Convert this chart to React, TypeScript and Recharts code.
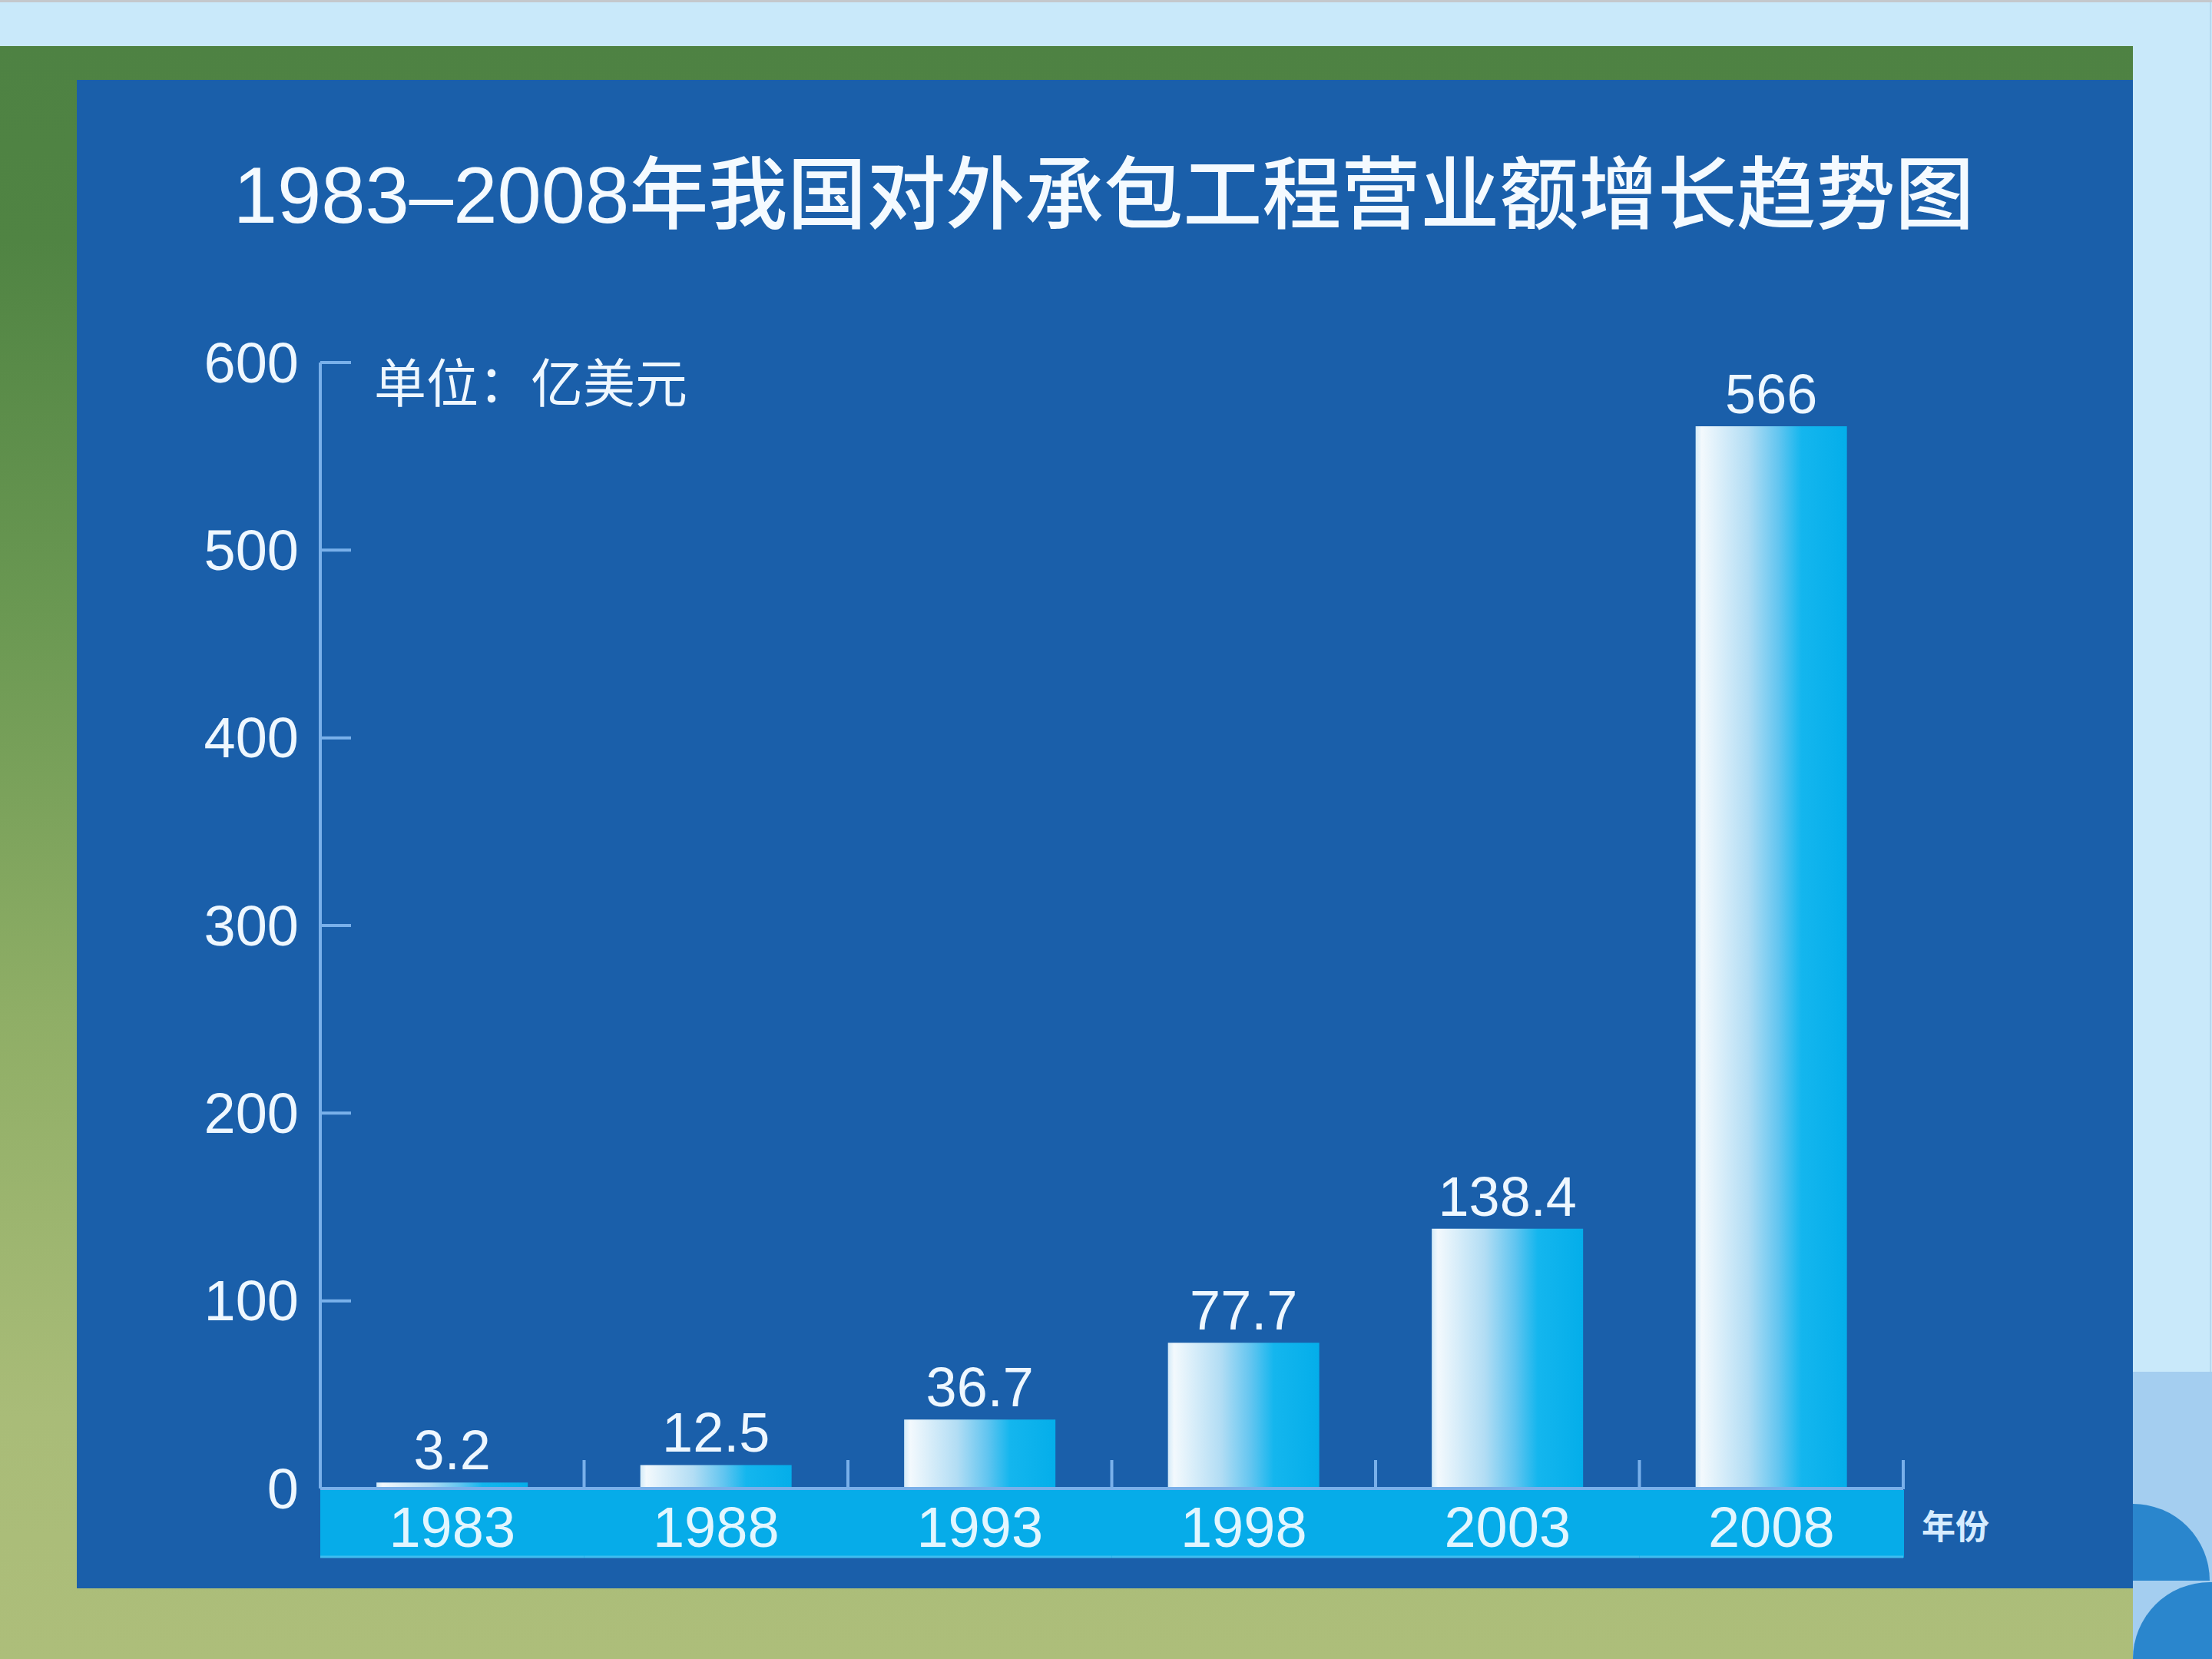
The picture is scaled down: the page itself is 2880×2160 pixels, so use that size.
import React from "react"
import { BarChart, Bar, XAxis, YAxis, LabelList } from "recharts"

const years = ["1983", "1988", "1993", "1998", "2003", "2008"]
const revenue = [3.2, 12.5, 36.7, 77.7, 138.4, 566]
const yTicks = [0, 100, 200, 300, 400, 500, 600]

const title = "1983–2008年我国对外承包工程营业额增长趋势图"
const unitLabel = "单位：亿美元"
const xAxisName = "年份"

const W = 2880
const H = 2160
// plot box, px on the page
const PLOT_L = 417
const PLOT_R = 2478
const PLOT_T = 472
const PLOT_B = 1938
const BAND_W = (PLOT_R - PLOT_L) / years.length

const FONT = "'Liberation Sans', Arial, 'Noto Sans CJK SC', sans-serif"
const TEXT = "#EEF7FF"
const AXIS = "#79B0EA"
const PANEL = "#1A5FAA"

const data = years.map((y, i) => ({ year: y, value: revenue[i] }))

function YTick({ x, y, payload }: any) {
  return (
    <g>
      <line x1={x} x2={x + 40} y1={y} y2={y} stroke={AXIS} strokeWidth={4} />
      <text x={x - 28} y={y} textAnchor="end" dominantBaseline="central" fill={TEXT} fontSize={74} fontFamily={FONT}>
        {payload.value}
      </text>
    </g>
  )
}

function XTick({ x, y, payload }: any) {
  const right = x + BAND_W / 2
  return (
    <g>
      <rect x={x - BAND_W / 2} y={y + 2} width={BAND_W + 1} height={88} fill="#06ACE9" />
      <line x1={x - BAND_W / 2} x2={right} y1={y + 89} y2={y + 89} stroke="#3FBDF0" strokeWidth={3} />
      <line x1={right} x2={right} y1={y + 1} y2={y - 37} stroke={AXIS} strokeWidth={4} />
      <text x={x} y={y + 50} textAnchor="middle" dominantBaseline="central" fill="#E2F6FF" fontSize={74} fontFamily={FONT}>
        {payload.value}
      </text>
    </g>
  )
}

const abs = (s: React.CSSProperties): React.CSSProperties => ({ position: "absolute", ...s })

export default function App() {
  return (
    <div style={abs({ left: 0, top: 0, width: W, height: H, overflow: "hidden", background: "#C9E9FA" })}>
      {/* page backdrop */}
      <div style={abs({ left: 0, top: 0, width: W, height: 3, background: "#C4C8CC" })} />
      <div style={abs({ left: 2777, top: 1786, width: 103, height: 374, background: "#A4CEF0" })} />
      <div style={abs({ left: 2777, top: 1958, width: 100, height: 100, background: "#2A86CD", borderTopRightRadius: 100 })} />
      <div style={abs({ left: 2777, top: 2060, width: 103, height: 100, background: "#2A86CD", borderTopLeftRadius: 103 })} />
      <div style={abs({ left: 2877, top: 3, width: 2, height: 1783, background: "#B6D8EE" })} />
      <div
        style={abs({
          left: 0,
          top: 60,
          width: 2777,
          height: 2100,
          background: "linear-gradient(180deg, #4E8243 0%, #508443 12%, #6A9852 35%, #8FAE66 60%, #A9BC78 85%, #ADBE7A 100%)",
        })}
      />
      <div style={abs({ left: 100, top: 104, width: 2677, height: 1964, background: PANEL })} />

      <div
        style={abs({
          left: 1437,
          top: 254,
          transform: "translate(-50%, -50%)",
          whiteSpace: "nowrap",
          lineHeight: 1,
          fontSize: 103,
          fontFamily: FONT,
          fontWeight: 500,
          color: "#F4FAFF",
        })}
      >
        {title}
      </div>
      <div
        style={abs({
          left: 487,
          top: 500,
          transform: "translateY(-50%)",
          whiteSpace: "nowrap",
          lineHeight: 1,
          fontSize: 68,
          fontFamily: FONT,
          color: TEXT,
        })}
      >
        {unitLabel}
      </div>
      <div
        style={abs({
          left: 2502,
          top: 1989,
          transform: "translateY(-50%)",
          whiteSpace: "nowrap",
          lineHeight: 1,
          fontSize: 44,
          fontWeight: 700,
          fontFamily: FONT,
          color: "#D6ECFF",
        })}
      >
        {xAxisName}
      </div>

      <div style={abs({ left: 0, top: 0 })}>
        <BarChart
          width={W}
          height={H}
          data={data}
          barCategoryGap="21.3%"
          margin={{ top: PLOT_T, left: PLOT_L - 100, right: W - PLOT_R, bottom: H - PLOT_B - 100 }}
        >
          <defs>
            <linearGradient id="barFill" x1="0" y1="0" x2="1" y2="0">
              <stop offset="0%" stopColor="#D2EAF8" />
              <stop offset="4%" stopColor="#F3F9FD" />
              <stop offset="35%" stopColor="#B2DDF4" />
              <stop offset="55%" stopColor="#62C5F0" />
              <stop offset="70%" stopColor="#14B6EE" />
              <stop offset="100%" stopColor="#04AEEA" />
            </linearGradient>
          </defs>
          <XAxis
            dataKey="year"
            height={100}
            tickSize={0}
            tickMargin={0}
            interval={0}
            axisLine={{ stroke: AXIS, strokeWidth: 4 }}
            tick={<XTick />}
          />
          <YAxis
            width={100}
            domain={[0, 600]}
            ticks={yTicks}
            tickSize={0}
            tickMargin={0}
            interval={0}
            axisLine={{ stroke: AXIS, strokeWidth: 4 }}
            tick={<YTick />}
          />
          <Bar dataKey="value" fill="url(#barFill)" isAnimationActive={false}>
            <LabelList dataKey="value" position="top" offset={17} fill={TEXT} fontSize={72} fontFamily={FONT} />
          </Bar>
        </BarChart>
      </div>
    </div>
  )
}
